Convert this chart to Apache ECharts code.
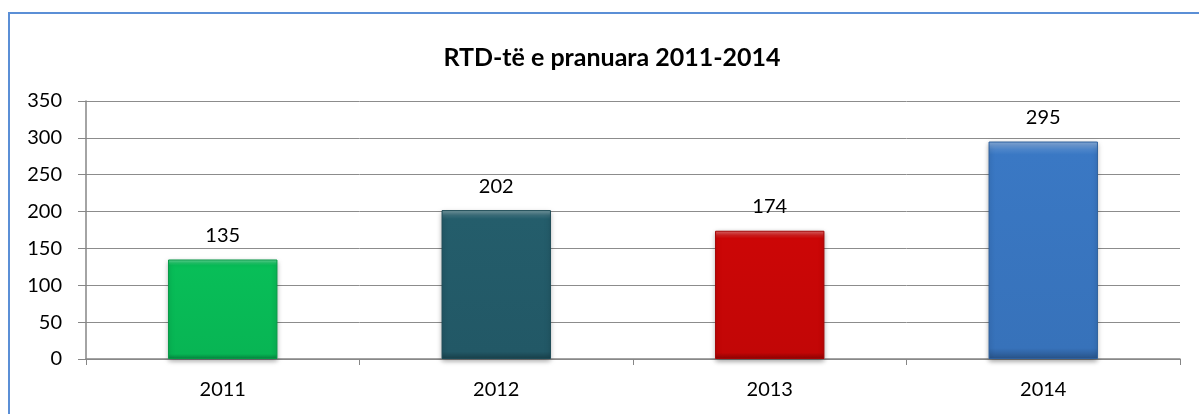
<!DOCTYPE html>
<html>
<head>
<meta charset="utf-8">
<script src="https://cdn.jsdelivr.net/npm/echarts@6/dist/echarts.min.js"></script>
<style>
html,body{margin:0;padding:0;background:#fff;}
#c{width:1199px;height:414px;}
</style>
</head>
<body>
<div id="c"></div>
<script>
const titleText = 'RTD-të e pranuara 2011-2014';
const categories = ['2011', '2012', '2013', '2014'];
const values = [135, 202, 174, 295];
const barColors = ['#08BE58', '#245D6B', '#CC0606', '#3A78C4'];
const yTicks = [0, 50, 100, 150, 200, 250, 300, 350];

const FONT = 'Lato, "Open Sans", sans-serif';
const chart = echarts.init(document.getElementById('c'), null, {renderer: 'canvas'});

function shade(hex, f) {
  const n = parseInt(hex.slice(1), 16);
  let r = (n >> 16) & 255, g = (n >> 8) & 255, b = n & 255;
  if (f >= 0) { r += (255 - r) * f; g += (255 - g) * f; b += (255 - b) * f; }
  else { r *= 1 + f; g *= 1 + f; b *= 1 + f; }
  return 'rgb(' + Math.round(r) + ',' + Math.round(g) + ',' + Math.round(b) + ')';
}

const data = values.map((v, i) => ({
  value: v,
  itemStyle: {
    color: new echarts.graphic.LinearGradient(0, 0, 0, 1, [
      {offset: 0, color: shade(barColors[i], 0.4)},
      {offset: 0.035, color: shade(barColors[i], 0.1)},
      {offset: 0.06, color: barColors[i]},
      {offset: 0.95, color: shade(barColors[i], -0.05)},
      {offset: 1, color: shade(barColors[i], -0.3)}
    ]),
    borderColor: shade(barColors[i], -0.2),
    borderWidth: 1,
    shadowColor: 'rgba(0,0,0,0.35)',
    shadowBlur: 5,
    shadowOffsetY: 2
  }
}));

chart.setOption({
  animation: false,
  title: {
    text: titleText,
    left: 607,
    top: 40,
    textAlign: 'center',
    textStyle: {fontFamily: FONT, fontWeight: 'bold', fontSize: 25, color: '#000'}
  },
  graphic: [{
    type: 'rect',
    shape: {x: 9, y: 13, width: 1260, height: 460},
    style: {fill: 'none', stroke: '#5B8FD6', lineWidth: 2},
    z: 100
  }],
  grid: {left: 86, right: 19, top: 101, bottom: 55, containLabel: false},
  xAxis: {
    type: 'category',
    data: categories,
    axisLine: {lineStyle: {color: '#868686', width: 1.5}},
    axisTick: {show: true, alignWithLabel: false, length: 6, lineStyle: {color: '#868686'}},
    axisLabel: {fontFamily: FONT, fontSize: 20, color: '#000', margin: 21}
  },
  yAxis: {
    type: 'value',
    min: yTicks[0],
    max: yTicks[yTicks.length - 1],
    interval: 50,
    axisLine: {show: true, lineStyle: {color: '#868686', width: 1.5}},
    axisTick: {show: true, inside: false, length: 8, lineStyle: {color: '#868686'}},
    axisLabel: {fontFamily: FONT, fontSize: 20, color: '#000', margin: 24},
    splitLine: {show: true, lineStyle: {color: '#8C8C8C', width: 1}}
  },
  series: [{
    type: 'bar',
    data: data,
    barWidth: '40%',
    label: {
      show: true,
      position: 'top',
      distance: 14,
      fontFamily: FONT,
      fontSize: 20,
      color: '#000'
    }
  }]
});
</script>
</body>
</html>
